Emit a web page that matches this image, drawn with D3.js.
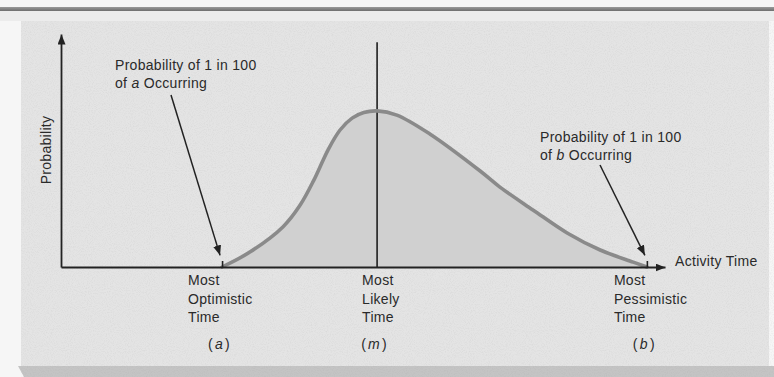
<!DOCTYPE html>
<html>
<head>
<meta charset="utf-8">
<script src="https://cdn.jsdelivr.net/npm/d3@7"></script>
<style>
  html, body { margin: 0; padding: 0; background: #f3f3f3; }
  svg { display: block; }
  text { font-family: "Liberation Sans", Arial, sans-serif; fill: #2a2a2a; }
</style>
</head>
<body>
<svg id="chart" width="774" height="377"></svg>
<script>
// Beta-shaped activity-time distribution (PERT estimate)
const activityTime = [4.00, 4.69, 5.51, 5.94, 6.28, 6.63, 6.93, 7.23, 7.52, 7.85, 8.34, 9.16, 10.41, 10.90, 11.72, 12.57, 13.39, 14.21, 14.55];
const probability  = [0.000, 0.064, 0.172, 0.266, 0.373, 0.502, 0.588, 0.639, 0.663, 0.670, 0.652, 0.571, 0.412, 0.343, 0.245, 0.146, 0.073, 0.021, 0.000];

// The three time estimates
const estimateKeys   = ["a", "m", "b"];
const estimateValues = [4.00, 7.85, 14.55];
const estimateNames  = [["Most", "Optimistic", "Time"], ["Most", "Likely", "Time"], ["Most", "Pessimistic", "Time"]];

const axisTitleX = "Activity Time";
const axisTitleY = "Probability";
const noteLine1  = "Probability of 1 in 100";
const noteKeys   = ["a", "b"];

const svg = d3.select("#chart");
const W = 774, H = 377;

// Page/panel backdrop
const defs = svg.append("defs");
const grain = defs.append("filter").attr("id", "grain").attr("x", 0).attr("y", 0).attr("width", "100%").attr("height", "100%");
grain.append("feTurbulence").attr("type", "fractalNoise").attr("baseFrequency", 0.95).attr("numOctaves", 2).attr("seed", 3).attr("result", "n");
grain.append("feColorMatrix").attr("in", "n").attr("type", "matrix")
  .attr("values", "0 0 0 0 0.3  0 0 0 0 0.3  0 0 0 0 0.3  0 0 0 -1.3 0.75");

const topBand = defs.append("linearGradient").attr("id", "topBand").attr("x1", 0).attr("y1", 0).attr("x2", 0).attr("y2", 1);
topBand.append("stop").attr("offset", "0%").attr("stop-color", "#9a9a9a");
topBand.append("stop").attr("offset", "100%").attr("stop-color", "#6e6e6e");

svg.append("rect").attr("x", 0).attr("y", 0).attr("width", W).attr("height", H).attr("fill", "#f6f6f6");
svg.append("rect").attr("x", 0).attr("y", 7).attr("width", W).attr("height", 4).attr("fill", "url(#topBand)");
svg.append("rect").attr("x", 0).attr("y", 11).attr("width", W).attr("height", 10).attr("fill", "#ececec");
svg.append("rect").attr("x", 21).attr("y", 21).attr("width", 748).attr("height", 345).attr("fill", "#e4e4e4");
svg.append("path").attr("d", "M18,366 L774,366 L774,377 L24,377 Z").attr("fill", "#c4c4c4");
svg.append("rect").attr("x", 21).attr("y", 21).attr("width", 753).attr("height", 356).attr("fill", "#000").attr("filter", "url(#grain)").attr("opacity", 0.2);

// Scales
const x = d3.scaleLinear().domain([0, 15]).range([61, 665]);
const y = d3.scaleLinear().domain([0, 1]).range([267, 34]);

// Arrow head marker
defs.append("marker").attr("id", "head").attr("viewBox", "0 0 10 8").attr("refX", 10).attr("refY", 4)
  .attr("markerWidth", 10).attr("markerHeight", 8).attr("markerUnits", "userSpaceOnUse").attr("orient", "auto")
  .append("path").attr("d", "M0,0 L10,4 L0,8 Z").attr("fill", "#222");

const pts = activityTime.map((t, i) => [t, probability[i]]);
const curve = d3.curveCatmullRom.alpha(0.5);

// Shaded area under the curve
const area = d3.area().x(d => x(d[0])).y0(y(0)).y1(d => y(d[1])).curve(curve);
svg.append("path").datum(pts).attr("d", area).attr("fill", "#d0d0d0");

// Most likely time marker line
const mVal = estimateValues[1];
svg.append("line").attr("x1", x(mVal)).attr("x2", x(mVal)).attr("y1", y(0)).attr("y2", y(0.965))
  .attr("stroke", "#1e1e1e").attr("stroke-width", 1.6);

// Distribution curve
const line = d3.line().x(d => x(d[0])).y(d => y(d[1])).curve(curve);
svg.append("path").datum(pts).attr("d", line).attr("fill", "none")
  .attr("stroke", "#8a8a8a").attr("stroke-width", 3.6).attr("stroke-linecap", "round");

// Axes
const xAxis = svg.append("g").attr("transform", `translate(0,${y(0)})`)
  .call(d3.axisBottom(x).tickValues([estimateValues[0], estimateValues[2]]).tickSizeInner(-6).tickSizeOuter(0).tickFormat(""));
const yAxis = svg.append("g").attr("transform", `translate(${x(0)},0)`)
  .call(d3.axisLeft(y).tickValues([]).tickSizeOuter(0));
[xAxis, yAxis].forEach(g => {
  g.select(".domain").attr("stroke", "#222").attr("stroke-width", 1.8).attr("marker-end", "url(#head)");
  g.selectAll(".tick line").attr("stroke", "#222").attr("stroke-width", 1.6);
});

const fs = 14, ls = 0.3;

// Axis titles
svg.append("text").attr("x", 675).attr("y", 266).attr("font-size", fs).attr("letter-spacing", ls).text(axisTitleX);
svg.append("text").attr("transform", "translate(51,150) rotate(-90)").attr("text-anchor", "middle")
  .attr("font-size", fs).attr("letter-spacing", ls).text(axisTitleY);

// Estimate labels under the axis
const labelDx = [-34, -15, -33];
estimateValues.forEach((v, i) => {
  const g = svg.append("g");
  estimateNames[i].forEach((s, j) => {
    g.append("text").attr("x", x(v) + labelDx[i]).attr("y", 285 + j * 18.5)
      .attr("font-size", fs).attr("letter-spacing", ls).text(s);
  });
  const t = g.append("text").attr("x", x(v) - 3).attr("y", 349).attr("text-anchor", "middle")
    .attr("font-size", fs).attr("letter-spacing", ls);
  t.append("tspan").text("(");
  t.append("tspan").attr("dx", 2).attr("font-style", "italic").text(estimateKeys[i]);
  t.append("tspan").attr("dx", 2).text(")");
});

// Callouts for the 1-in-100 end points
const notes = [
  { key: noteKeys[0], value: estimateValues[0], tx: 115, ty: 70, sx: 171, sy: 95, dx: -2 },
  { key: noteKeys[1], value: estimateValues[2], tx: 540, ty: 142, sx: 600, sy: 165, dx: -2 }
];
notes.forEach(n => {
  svg.append("text").attr("x", n.tx).attr("y", n.ty).attr("font-size", fs).attr("letter-spacing", ls).text(noteLine1);
  const t2 = svg.append("text").attr("x", n.tx).attr("y", n.ty + 17.5).attr("font-size", fs).attr("letter-spacing", ls);
  t2.append("tspan").text("of ");
  t2.append("tspan").attr("font-style", "italic").text(n.key);
  t2.append("tspan").text(" Occurring");
  svg.append("line").attr("x1", n.sx).attr("y1", n.sy).attr("x2", x(n.value) + n.dx).attr("y2", y(0.05))
    .attr("stroke", "#222").attr("stroke-width", 1.5).attr("marker-end", "url(#head)");
});
</script>
</body>
</html>
